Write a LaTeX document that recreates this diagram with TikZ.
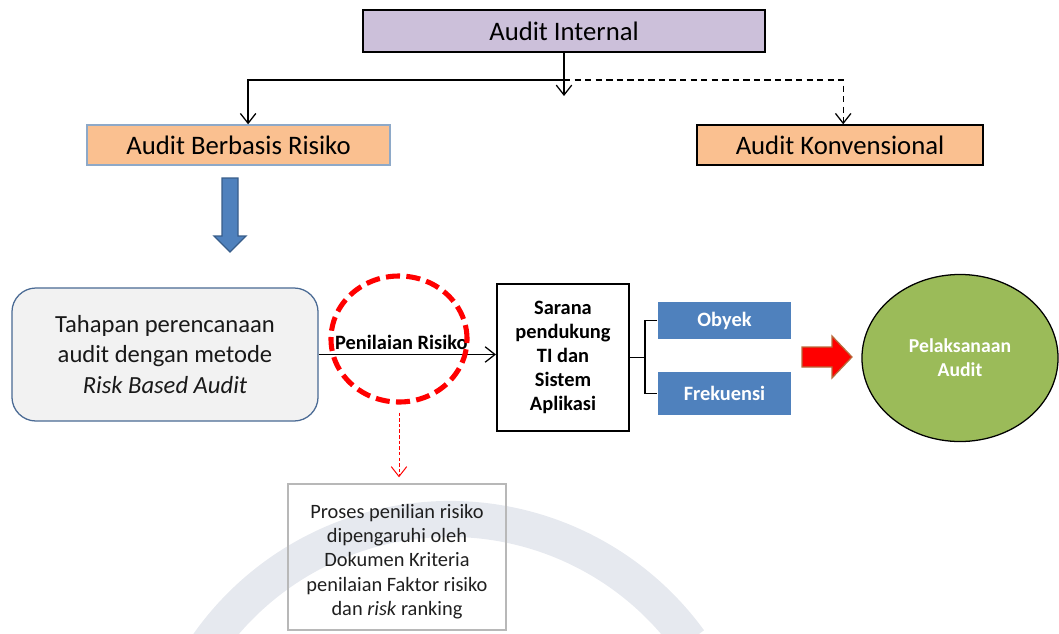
\documentclass[tikz,border=0pt]{standalone}
\usepackage{fontspec}
\setmainfont{Carlito}
\usetikzlibrary{positioning}
\usetikzlibrary{arrows.meta,shapes.geometric}
\definecolor{internc}{HTML}{CCC0DA}
\definecolor{riskc}{HTML}{FAC090}
\definecolor{bluec}{HTML}{4F81BD}
\definecolor{bluelinec}{HTML}{385D8A}
\definecolor{framec}{HTML}{4A6A94}
\definecolor{rbaframec}{HTML}{8EA9C8}
\definecolor{greenc}{HTML}{9BBB59}
\definecolor{panelc}{HTML}{F2F2F2}
\definecolor{markc}{HTML}{E6E9EF}
\definecolor{redarrowc}{HTML}{B86B3C}

\tikzset{
  titlebox/.style={draw, line width=1pt, inner sep=0pt, font=\fontsize{19}{23}\selectfont},
  bluebox/.style={fill=bluec, inner sep=0pt, text=white, minimum width=3.325cm,
    font=\fontsize{14.5}{17}\selectfont\bfseries},
  opentip/.style={-{Straight Barb[length=7pt,width=11pt]}}
}

\begin{document}
\begin{tikzpicture}[x=0.025cm,y=-0.025cm,line width=0.9pt]
\useasboundingbox (0,0) rectangle (1059,633);

% faint watermark behind the lower part
\draw[markc, line width=0.9cm] ([shift={(147:7.4cm)}]450,815) arc[start angle=147, end angle=36, radius=7.4cm];

% top level
\node[titlebox, fill=internc, minimum width=10.05cm, minimum height=1.05cm] (intern) at (564,31) {Audit Internal};
\node[titlebox, fill=riskc, draw=rbaframec, minimum width=7.575cm, minimum height=1cm] (rba) at (238.5,145) {Audit Berbasis Risiko};
\node[titlebox, fill=riskc, minimum width=7.15cm, minimum height=1cm] (konv) at (840,145) {Audit Konvensional};

\coordinate (hub) at (564,80);
\coordinate (drop) at (564,96);
\draw[opentip] (intern) -- (drop);
\draw[opentip] (hub) -| ([xshift=0.24cm]rba.north);
\draw[opentip, dash pattern=on 4.5pt off 3pt] (hub) -| ([xshift=0.08cm]konv.north);

% blue block arrow
\filldraw[fill=bluec, draw=bluelinec] (222,178) -- (238,178) -- (238,236) -- (246,236) -- (230,252) -- (214,236) -- (222,236) -- cycle;

% planning stage
\node[draw=framec, fill=panelc, rounded corners=0.6cm, minimum width=7.65cm, minimum height=3.325cm,
  align=center, text=black!90, font=\fontsize{17.5}{21.5}\selectfont] (plan) at (165,354.5)
  {Tahapan perencanaan\\audit dengan metode\\\textit{Risk Based Audit}};

\node[draw, line width=1.4pt, fill=white, minimum width=3.3cm, minimum height=3.675cm, align=center,
  font=\fontsize{14.5}{17.2}\selectfont\bfseries] (sarana) at (563,357.5)
  {Sarana\\pendukung\\TI dan\\Sistem\\Aplikasi};

\draw[opentip] (plan.east) -- (plan.east -| sarana.west)
  node[midway, above, inner sep=3pt, font=\fontsize{14.5}{17}\selectfont\bfseries, xshift=-0.15cm] {Penilaian Risiko};

\node[ellipse, draw=red, line width=3.6pt, dash pattern=on 10pt off 4.5pt, minimum width=3.4cm, minimum height=3.15cm] (mark) at (399,339) {};

% note below
\node[draw=black!28, line width=1pt, minimum width=5.45cm, minimum height=3.65cm, align=center,
  text=black!88, font=\fontsize{14.5}{17.2}\selectfont] (note) at (397,557)
  {\rule{0pt}{16.5pt}Proses penilian risiko\\dipengaruhi oleh\\Dokumen Kriteria\\penilaian Faktor risiko\\dan \textit{risk} ranking};
\draw[red, line width=0.7pt, dash pattern=on 2.5pt off 1.5pt, opentip, shorten <=0.2cm, shorten >=0.15cm] (mark.south) -- (mark.south |- note.north);

% objects
\node[bluebox, minimum height=0.925cm] (obyek) at (724.5,320.5) {Obyek};
\node[bluebox, minimum height=1.075cm] (frek) at (724.5,393.5) {Frekuensi};
\coordinate (fork) at (645,357.5);
\draw (sarana.east) -- (fork);
\draw (obyek.west) -| (fork) |- (frek.west);

% red block arrow and execution
\filldraw[fill=red, draw=redarrowc] (802,347) -- (832,347) -- (832,336) -- (852,357) -- (832,378) -- (832,367) -- (802,367) -- cycle;
\node[ellipse, draw, fill=greenc, minimum width=4.9cm, minimum height=4.175cm, align=center, text=white,
  font=\fontsize{14}{17}\selectfont\bfseries] (exec) at (960,358) {Pelaksanaan\\Audit};
\end{tikzpicture}
\end{document}
